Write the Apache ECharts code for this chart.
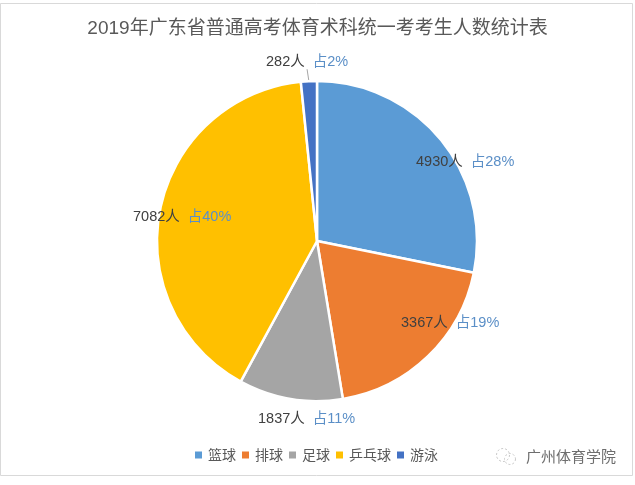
<!DOCTYPE html>
<html lang="zh">
<head>
    <meta charset="UTF-8">
    <title>2019年广东省普通高考体育术科统一考考生人数统计表</title>
    <style>
        html, body {margin: 0; padding: 0; background: #fff;}
        #chart {width: 635px; height: 485px;}
    </style>
    <script src="https://cdn.jsdelivr.net/npm/echarts@6/dist/echarts.min.js"></script>
</head>
<body>
<div id="chart"></div>
<script>
    var titleText = '2019年广东省普通高考体育术科统一考考生人数统计表';
    var categories = ['篮球', '排球', '足球', '乒乓球', '游泳'];
    var people = [4930, 3367, 1837, 7082, 282];
    var shares = [28, 19, 11, 40, 2];
    var colors = ['#5B9BD5', '#ED7D31', '#A5A5A5', '#FFC000', '#4472C4'];
    var font = '"Liberation Sans", "Noto Sans CJK SC", sans-serif';

    // 标签左边缘和中线位置
    var labelSpots = [[416, 162], [401, 323], [258, 419], [133, 217], [266, 62]];

    var pieData = categories.map(function (name, i) {
        return {
            name: name,
            value: people[i],
            itemStyle: {color: colors[i]},
            labelLine: {show: i === 4, length: 8, length2: 0, lineStyle: {color: '#a6a6a6', width: 1}}
        };
    });

    var myChart = echarts.init(document.getElementById('chart'));
    myChart.setOption({
        animation: false,
        backgroundColor: '#fff',
        title: {
            text: titleText,
            left: 'center',
            top: 14,
            textStyle: {color: '#595959', fontSize: 19, fontWeight: 'normal', fontFamily: font}
        },
        legend: {
            data: categories,
            left: 195,
            top: 448,
            padding: 0,
            icon: 'rect',
            itemWidth: 7,
            itemHeight: 7,
            itemGap: 6,
            itemStyle: {borderWidth: 0},
            textStyle: {color: '#595959', fontSize: 14, fontFamily: '"Noto Sans CJK SC", sans-serif', padding: [0, 0, 0, 1]}
        },
        graphic: [
            {type: 'rect', silent: true, z: -1, shape: {x: 0.5, y: 3.5, width: 632, height: 472}, style: {fill: '#fff', stroke: '#d9d9d9', lineWidth: 1}},
            {type: 'text', silent: true, left: 526, top: 449, style: {text: '广州体育学院', fill: '#6e6e6e', font: '15px "Noto Sans CJK SC", sans-serif'}},
            {type: 'circle', silent: true, shape: {cx: 503, cy: 455, r: 6.5}, style: {fill: 'none', stroke: '#c8c8c8', lineWidth: 1, lineDash: [2, 2]}},
            {type: 'circle', silent: true, shape: {cx: 510, cy: 459, r: 5.5}, style: {fill: 'none', stroke: '#c8c8c8', lineWidth: 1, lineDash: [2, 2]}}
        ],
        series: [{
            type: 'pie',
            center: [317, 241],
            radius: [0, 160],
            startAngle: 90,
            clockwise: true,
            data: pieData,
            itemStyle: {borderColor: '#fff', borderWidth: 2.5},
            emphasis: {disabled: true},
            label: {
                show: true,
                position: 'outside',
                fontFamily: font,
                formatter: function (p) {
                    return '{num|' + people[p.dataIndex] + '人}{pct|占' + shares[p.dataIndex] + '%}';
                },
                rich: {
                    num: {color: '#404040', fontSize: 14.5, fontFamily: font, padding: [0, 8, 0, 0]},
                    pct: {color: '#5B8FC7', fontSize: 14.5, fontFamily: font}
                }
            },
            labelLine: {show: false},
            labelLayout: function (p) {
                var spot = labelSpots[p.dataIndex];
                return {x: spot[0], y: spot[1], align: 'left', verticalAlign: 'middle'};
            }
        }]
    });
</script>
</body>
</html>
